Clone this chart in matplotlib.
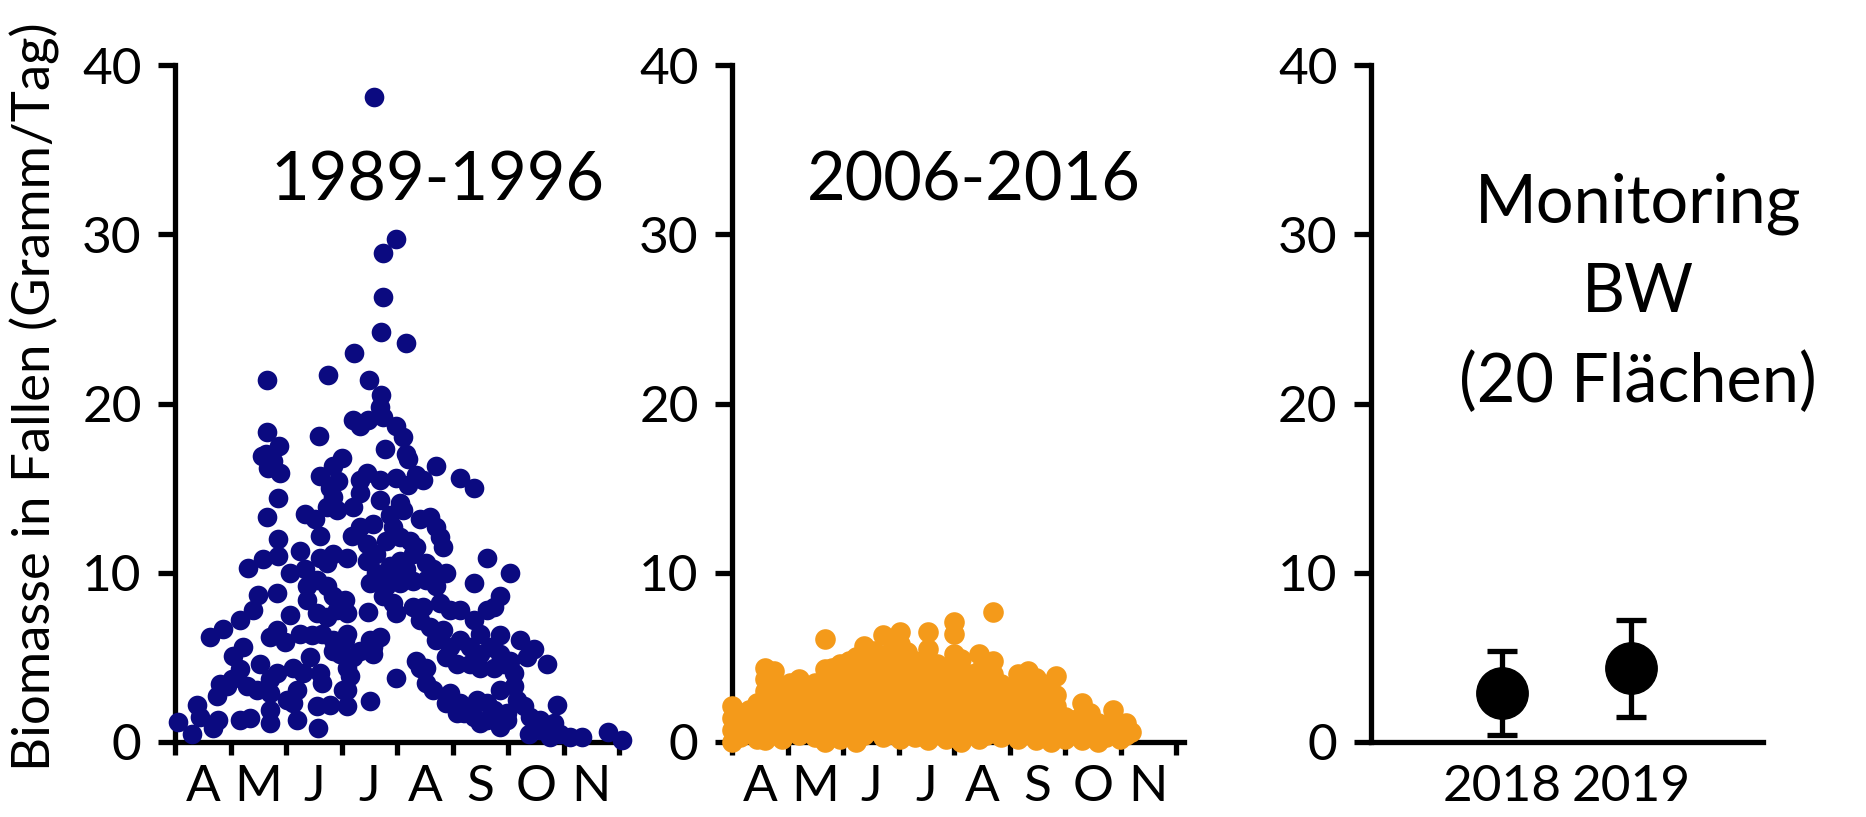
import numpy as np
import matplotlib.pyplot as plt

plt.rcParams['font.family'] = ['Lato', 'DejaVu Sans']

# x = Monate ab 1. April (0 = Anfang April), y = Biomasse in Gramm/Tag
punkte_1989 = [
    (3.59, 38.1), (3.98, 29.7), (3.74, 28.9), (3.75, 26.3), (3.71, 24.2), (4.17, 23.6),
    (3.23, 23.0), (1.66, 21.4), (2.75, 21.7), (3.50, 21.4), (3.71, 20.5),
    (3.69, 19.8), (3.74, 19.2), (3.21, 19.0), (3.33, 18.7), (3.47, 19.0), (3.99, 18.7),
    (4.10, 18.0), (4.17, 17.0), (4.20, 16.7), (2.60, 18.1), (1.66, 18.3), (1.88, 17.5),
    (1.64, 17.0), (1.56, 16.9), (1.77, 16.6), (1.89, 15.9), (1.68, 16.2), (4.71, 16.3),
    (3.78, 17.3), (5.14, 15.6), (5.38, 15.0), (4.35, 15.8), (4.47, 15.5), (3.99, 15.6),
    (4.20, 15.2), (3.45, 15.9), (3.33, 15.5), (3.69, 15.5), (3.00, 16.8), (2.85, 16.3),
    (2.61, 15.7), (2.94, 15.4), (2.79, 15.0), (2.85, 14.5), (3.33, 14.7), (3.69, 14.3),
    (4.05, 14.1), (4.11, 13.7), (1.86, 14.4), (1.65, 13.3), (2.73, 13.9), (2.91, 13.7),
    (2.34, 13.5), (2.52, 13.2), (3.21, 13.9),
    (3.33, 12.7), (3.18, 12.2), (3.57, 12.9), (3.87, 13.4), (3.93, 12.7), (4.41, 13.2),
    (4.59, 13.3), (4.71, 12.7), (4.77, 12.1), (4.83, 11.5), (2.61, 12.2), (1.86, 12.0),
    (2.25, 11.3), (1.86, 11.0), (1.59, 10.8), (1.32, 10.3), (2.07, 10.0), (2.34, 10.2),
    (2.61, 10.9), (2.85, 11.1), (3.09, 10.9), (2.73, 10.6), (3.45, 11.7), (3.63, 11.1),
    (3.81, 11.9), (4.05, 12.1), (4.23, 11.9), (4.35, 11.5), (4.29, 11.1), (4.05, 10.7),
    (3.87, 10.4), (3.45, 10.7), (3.63, 10.0), (3.93, 10.0), (4.17, 10.2), (4.53, 10.6),
    (4.65, 10.2), (4.89, 10.0), (3.51, 9.4), (3.81, 9.2), (4.05, 9.4), (4.29, 9.5),
    (4.53, 9.6), (4.71, 9.2), (5.38, 9.4), (5.62, 10.9), (6.04, 10.0), (2.37, 9.2),
    (2.55, 9.6), (2.73, 9.2), (2.85, 8.6), (3.06, 8.4), (2.37, 8.4), (1.83, 8.8),
    (1.50, 8.7), (5.86, 8.6), (5.74, 8.0), (5.62, 7.8),
    (3.75, 8.6), (3.93, 8.2), (3.99, 7.6), (4.29, 8.0), (4.47, 8.0), (4.77, 8.2),
    (4.95, 7.8), (5.14, 7.8), (5.38, 7.2), (5.50, 6.4), (5.86, 6.3), (6.22, 6.0),
    (6.46, 5.5), (6.34, 5.0), (6.70, 4.6), (3.48, 7.7), (3.09, 7.6), (2.91, 7.8),
    (2.73, 7.4), (2.55, 7.6), (2.07, 7.5), (1.41, 7.8), (1.17, 7.2), (0.87, 6.7),
    (0.63, 6.2), (1.71, 6.2), (1.83, 6.6), (1.98, 5.9), (2.25, 6.4), (2.46, 6.3),
    (2.64, 6.4), (3.09, 6.4), (2.85, 5.4), (3.06, 6.0), (3.51, 6.0), (3.69, 6.2),
    (3.33, 5.4), (3.21, 5.0), (3.57, 5.6), (4.41, 7.2), (4.59, 6.8), (4.83, 6.6),
    (4.71, 6.0), (4.95, 5.6), (5.14, 6.0), (5.32, 5.6), (5.50, 5.2), (5.68, 5.6),
    (5.86, 5.2), (6.04, 4.8), (4.35, 4.8), (4.53, 4.4), (4.89, 5.0), (5.08, 4.6),
    (5.32, 4.6), (5.50, 4.4), (5.74, 4.4), (5.92, 4.6), (6.10, 4.1), (2.43, 5.0),
    (2.85, 6.0), (1.53, 4.6), (1.23, 5.6), (1.05, 5.1), (1.17, 4.3), (1.02, 3.7),
    (0.81, 3.4), (1.29, 3.3), (1.47, 3.1), (1.71, 3.7), (1.83, 4.1), (2.13, 4.4),
    (2.31, 4.1), (2.61, 4.1), (2.64, 3.5), (3.09, 4.4), (3.15, 3.9), (3.03, 3.1),
    (2.97, 5.2), (3.57, 5.2),
    (3.09, 2.1), (3.51, 2.4), (3.99, 3.8), (4.65, 3.1), (4.95, 2.9), (5.14, 2.3),
    (5.20, 1.7), (5.44, 2.5), (5.62, 2.3), (5.74, 1.9), (5.86, 3.1), (6.10, 3.3),
    (6.16, 2.5), (5.98, 1.7), (6.28, 2.1), (6.40, 1.5), (6.58, 1.3), (6.88, 2.2),
    (6.82, 1.1), (6.94, 0.5), (7.12, 0.3), (7.33, 0.3), (7.81, 0.6), (8.05, 0.1),
    (6.37, 0.5), (6.58, 0.7), (6.76, 0.3), (5.50, 1.1), (5.62, 1.3), (5.86, 0.9),
    (5.98, 1.3), (5.38, 1.5), (5.08, 1.7), (4.89, 2.3), (4.53, 3.5), (4.41, 4.4),
    (0.75, 2.7), (0.39, 2.2), (0.45, 1.5), (0.69, 0.8), (0.78, 1.3), (1.17, 1.3),
    (1.35, 1.4), (0.30, 0.5), (0.06, 1.2), (1.71, 1.1), (1.71, 1.9), (2.01, 2.5),
    (2.19, 1.3), (2.13, 2.3), (2.55, 2.1), (2.79, 2.2), (2.58, 0.8), (3.09, 3.1),
    (1.71, 2.9), (2.19, 3.1), (0.93, 3.3),
]

# 2006-2016: je Monatsposition die Tageswerte
spalten_2006 = [
    (0.00, [0.0, 0.7, 1.4, 2.1]),
    (0.15, [0.3, 1.0, 1.7]),
    (0.30, [0.6, 1.3, 1.9]),
    (0.45, [0.2, 0.9, 1.6, 2.3]),
    (0.60, [0.1, 0.8, 1.5, 2.3, 3.0, 3.7, 4.4]),
    (0.75, [0.5, 1.2, 2.0, 2.8, 3.5, 4.2]),
    (0.90, [0.2, 1.0, 1.8, 2.6, 3.3]),
    (1.05, [0.6, 1.4, 2.2, 3.0, 3.5]),
    (1.20, [0.4, 1.2, 2.0, 2.8, 3.7]),
    (1.35, [0.8, 1.6, 2.4, 3.1]),
    (1.50, [0.3, 1.1, 1.9, 2.7, 3.5]),
    (1.67, [0.0, 0.9, 1.7, 2.5, 3.3, 4.3, 6.1]),
    (1.80, [0.5, 1.3, 2.1, 2.9, 3.7, 4.4]),
    (1.95, [0.2, 1.0, 1.8, 2.6, 3.4, 4.6]),
    (2.10, [0.6, 1.4, 2.2, 3.0, 3.8, 4.8]),
    (2.24, [0.0, 0.9, 1.7, 2.5, 3.3, 4.1, 5.0]),
    (2.38, [0.4, 1.2, 2.0, 2.8, 3.6, 4.4, 5.7]),
    (2.55, [0.7, 1.5, 2.3, 3.1, 3.9, 4.7, 5.4]),
    (2.72, [0.3, 1.1, 1.9, 2.7, 3.5, 4.3, 5.0, 6.3]),
    (2.86, [0.5, 1.3, 2.1, 2.9, 3.7, 4.5, 5.4]),
    (3.03, [0.2, 1.0, 1.8, 2.6, 3.4, 4.2, 5.0, 5.8, 6.5]),
    (3.15, [0.6, 1.4, 2.2, 3.0, 3.8, 4.6, 5.3]),
    (3.30, [0.3, 1.1, 1.9, 2.7, 3.5, 4.3, 4.8]),
    (3.43, [0.6, 1.4, 2.2, 3.0, 3.8, 4.4]),
    (3.54, [0.1, 0.9, 1.7, 2.5, 3.3, 4.1, 4.8, 5.5, 6.5]),
    (3.70, [0.5, 1.3, 2.1, 2.9, 3.7, 4.6]),
    (3.85, [0.2, 1.0, 1.8, 2.6, 3.4, 4.2]),
    (4.00, [0.6, 1.4, 2.2, 3.0, 3.8, 4.6, 5.2, 6.4, 7.1]),
    (4.12, [0.0, 0.9, 1.7, 2.5, 3.3, 4.1, 4.9]),
    (4.28, [0.5, 1.3, 2.1, 2.9, 3.7, 4.0]),
    (4.45, [0.2, 1.0, 1.8, 2.6, 3.4, 4.2, 5.2]),
    (4.58, [0.4, 1.2, 2.0, 2.8, 3.6, 3.9]),
    (4.70, [0.8, 1.6, 2.4, 3.2, 4.0, 4.8, 7.7]),
    (4.85, [0.3, 1.1, 1.9, 2.7, 3.4]),
    (4.98, [0.6, 1.4, 2.2, 2.9, 3.2]),
    (5.15, [0.2, 1.0, 1.8, 2.6, 3.3, 4.0]),
    (5.34, [0.5, 1.3, 2.1, 2.9, 3.6, 4.2]),
    (5.48, [0.1, 0.9, 1.7, 2.5, 3.2, 3.8]),
    (5.60, [0.4, 1.2, 2.0, 2.7, 3.4]),
    (5.74, [0.0, 0.8, 1.6, 2.3]),
    (5.84, [0.5, 1.3, 2.1, 2.8, 3.9]),
    (6.00, [0.2, 1.0, 1.5]),
    (6.15, [0.6, 1.3]),
    (6.31, [0.1, 0.8, 1.6, 2.3]),
    (6.45, [0.4, 1.1, 1.7]),
    (6.60, [0.0, 0.7, 1.1]),
    (6.74, [0.3, 1.0]),
    (6.86, [0.6, 1.3, 1.9]),
    (6.99, [0.2, 0.9]),
    (7.10, [0.4, 1.1]),
    (7.18, [0.6]),
]

jahre_bw = ['2018', '2019']
mittel_bw = [2.9, 4.35]
sd_bw = [2.5, 2.85]

monate = ['A', 'M', 'J', 'J', 'A', 'S', 'O', 'N']
y_ticks = [0, 10, 20, 30, 40]

navy = '#0b0a80'
orange = '#f49a1a'
lw = 3.8
fs_tick = 37
fs_titel = 48


def grundachse(ax):
    for s in ['top', 'right']:
        ax.spines[s].set_visible(False)
    for s in ['left', 'bottom']:
        ax.spines[s].set_linewidth(lw)
    ax.set_ylim(0, 40)
    ax.set_yticks(y_ticks)
    ax.tick_params(axis='y', length=12, width=lw, pad=12, labelsize=fs_tick)


def monatsachse(ax):
    ax.set_xlim(0, 8.15)
    ax.set_xticks(range(9))
    ax.set_xticklabels([])
    ax.set_xticks(np.arange(8) + 0.5, minor=True)
    ax.set_xticklabels(monate, minor=True)
    ax.tick_params(axis='x', which='major', length=9, width=lw)
    ax.tick_params(axis='x', which='minor', length=0, pad=16, labelsize=fs_tick)


fig = plt.figure(figsize=(18.66, 8.17), dpi=100)
ax1 = fig.add_axes([0.0938, 0.0918, 0.2424, 0.8286])
ax2 = fig.add_axes([0.3923, 0.0918, 0.2424, 0.8286])
ax3 = fig.add_axes([0.7347, 0.0918, 0.2101, 0.8286])

# 1989-1996
x1, y1 = np.array(punkte_1989).T
ax1.scatter(x1, y1, s=200, color=navy, linewidths=0, zorder=3, clip_on=False)
grundachse(ax1)
monatsachse(ax1)
ax1.text(4.72, 32.0, '1989-1996', ha='center', va='baseline', fontsize=fs_titel)

# 2006-2016
x2 = [x for x, ys in spalten_2006 for _ in ys]
y2 = [y for _, ys in spalten_2006 for y in ys]
ax2.scatter(x2, y2, s=220, color=orange, linewidths=0, zorder=3, clip_on=False)
grundachse(ax2)
monatsachse(ax2)
ax2.text(4.35, 32.0, '2006-2016', ha='center', va='baseline', fontsize=fs_titel)

# Monitoring BW 2018/2019
pos = np.arange(1, len(jahre_bw) + 1)
ax3.errorbar(pos, mittel_bw, yerr=sd_bw, fmt='o', color='black', markersize=37,
             elinewidth=3.8, capsize=11, capthick=3.8, zorder=3, clip_on=False)
grundachse(ax3)
ax3.set_xlim(-0.016, 3.02)
ax3.set_xticks(pos)
ax3.set_xticklabels(jahre_bw)
ax3.tick_params(axis='x', length=0, pad=16, labelsize=fs_tick)
ax3.text(2.05, 30.7, 'Monitoring', ha='center', va='baseline', fontsize=fs_titel)
ax3.text(2.05, 25.4, 'BW', ha='center', va='baseline', fontsize=fs_titel)
ax3.text(2.05, 20.1, '(20 Flächen)', ha='center', va='baseline', fontsize=fs_titel)

fig.text(10 / 1866, 0.056, 'Biomasse in Fallen (Gramm/Tag)', rotation=90,
         ha='left', va='bottom', fontsize=38)

fig.savefig('out.png', dpi=100)
